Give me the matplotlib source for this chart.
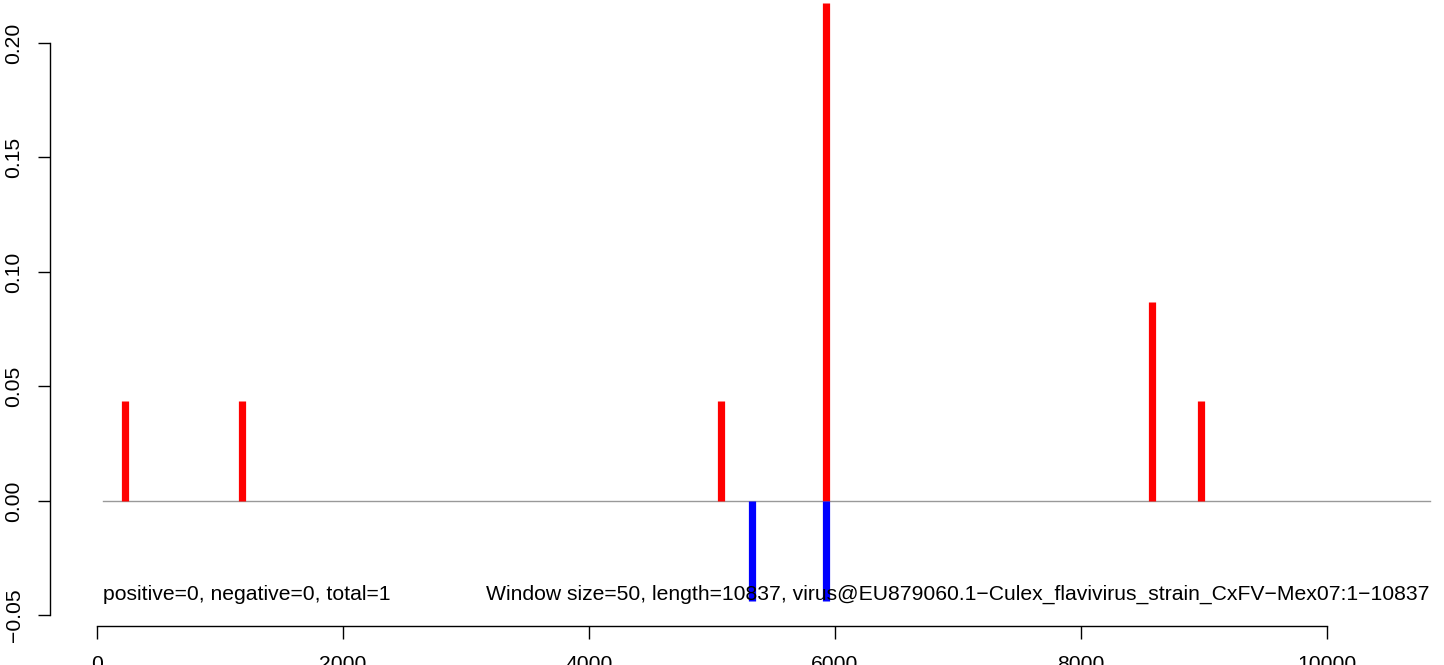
import matplotlib
matplotlib.use("Agg")
import matplotlib.pyplot as plt

plt.rcParams['font.family'] = ['Liberation Sans', 'DejaVu Sans']

# 数据：正向/负向位置与数值
seq_len = 10837
win_start = 50
pos_x = [228, 1179, 5073, 5927, 8577, 8976]
pos_y = [0.0435, 0.0435, 0.0435, 0.2174, 0.0870, 0.0435]
neg_x = [5325, 5927]
neg_y = [-0.0435, -0.0435]
x_ticks = [0, 2000, 4000, 6000, 8000, 10000]
y_ticks = [-0.05, 0.00, 0.05, 0.10, 0.15, 0.20]
y_labels = ['\u22120.05', '0.00', '0.05', '0.10', '0.15', '0.20']
left_note = 'positive=0, negative=0, total=1'
right_note = ('Window size=50, length=10837, '
              'virus@EU879060.1\u2212Culex_flavivirus_strain_CxFV\u2212Mex07:1\u221210837')

FS = 15.2  # 字号

W, H = 1444, 665
fig = plt.figure(figsize=(W / 100, H / 100), dpi=100)
# 坐标区：左边缘 x=50px，下边缘 y=626px
ax = fig.add_axes([50 / W, (H - 626) / H, 1 - 50 / W, 626 / H])
ax.set_xlim(-382, (W - 97) / 0.123)
ax.set_ylim(-0.0546, 501 / 2290)

# 基线
ax.plot([win_start, seq_len], [0, 0], color='#999999', lw=1.0)
# 竖线
ax.vlines(pos_x, 0, pos_y, colors='#ff0000', lw=5.2, capstyle='butt')
ax.vlines(neg_x, 0, neg_y, colors='#0000ff', lw=5.2, capstyle='butt')

ax.text(win_start, -0.041, left_note, ha='left', va='center', fontsize=FS)
ax.text(seq_len, -0.041, right_note, ha='right', va='center', fontsize=FS)

for s in ['top', 'right']:
    ax.spines[s].set_visible(False)
ax.spines['left'].set_bounds(-0.05, 0.20)
ax.spines['bottom'].set_bounds(0, 10000)
ax.spines['left'].set_linewidth(1.0)
ax.spines['bottom'].set_linewidth(1.0)

ax.set_xticks(x_ticks)
ax.set_xticklabels([str(t) for t in x_ticks], fontsize=FS)
ax.set_yticks(y_ticks)
ax.set_yticklabels(y_labels, fontsize=FS, rotation=90, va='center')
ax.tick_params(axis='both', direction='out', length=9, width=1.0)
ax.tick_params(axis='x', pad=12)
ax.tick_params(axis='y', pad=10)

fig.savefig('out.png', dpi=100)
